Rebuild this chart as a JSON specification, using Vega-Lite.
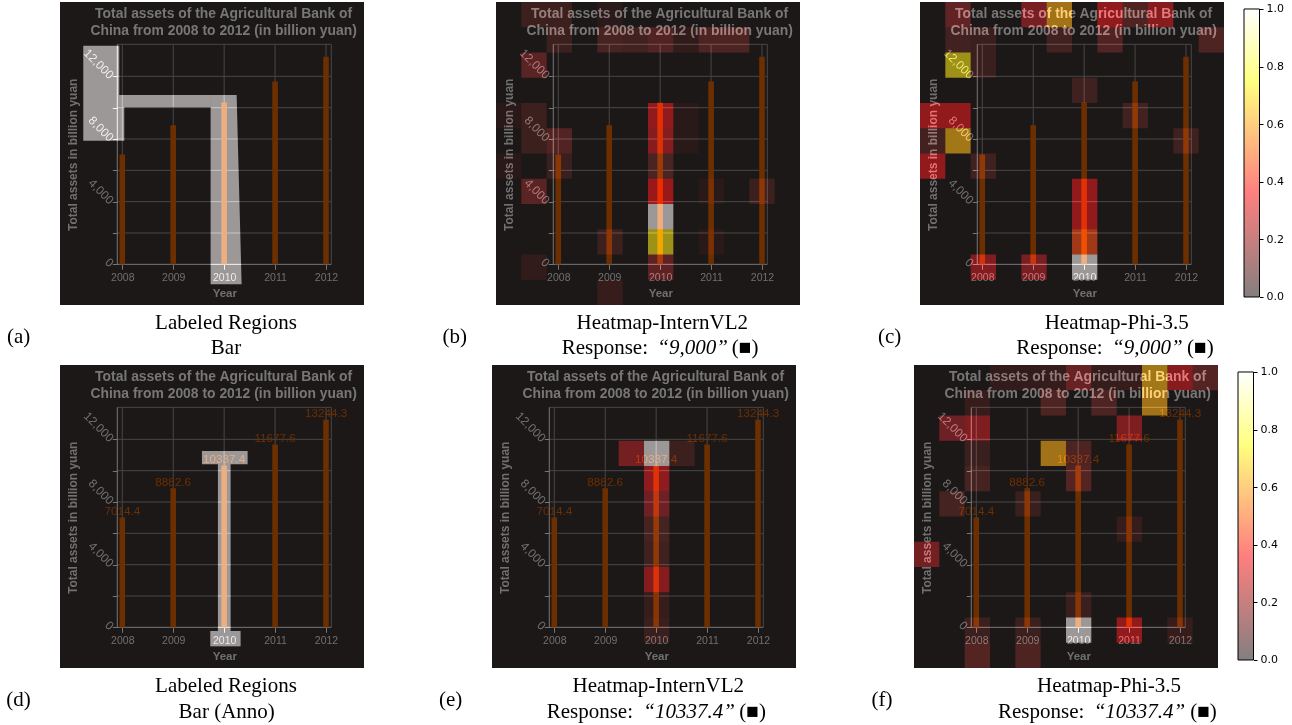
{"$schema":"https://vega.github.io/schema/vega-lite/v6.json","background":"white","padding":{"left":6,"top":2,"right":0,"bottom":0},"bounds":"flush","spacing":363,
"config":{"view":{"stroke":null},
"axisX":{"offset":-40.7,"domain":false,"grid":false,"tickSize":5,"tickColor":"#777777","labelColor":"#707070","labelFont":"Liberation Sans","labelFontSize":10.5,"labelPadding":3,"labelFlush":false,"labelOverlap":false,"titleFont":"Liberation Sans","titleFontSize":11.5,"titleFontWeight":"bold","titleColor":"#707070","titleX":164.3,"titleY":29.3,"titleBaseline":"middle","titleAlign":"center"},
"axisY":{"offset":-57.3,"domain":false,"grid":false,"tickSize":5,"tickColor":"#777777","labelColor":"#707070","labelFont":"Liberation Sans","labelFontSize":12,"labelPadding":1,"labelAngle":45,"labelAlign":"right","labelBaseline":"middle","labelOverlap":false,"titleFont":"Liberation Sans","titleFontSize":12,"titleFontWeight":"bold","titleColor":"#707070","titleX":-44.7,"titleY":152.3,"titleBaseline":"middle","titleAlign":"center"}},
"datasets":{
"bars":[{"x":2008,"y":7014.4},{"x":2009,"y":8882.6},{"x":2010,"y":10337.4},{"x":2011,"y":11677.6},{"x":2012,"y":13244.3}],
"grid":[{"x":2008,"x2":2008,"y":0,"y2":14043},{"x":2009,"x2":2009,"y":0,"y2":14043},{"x":2010,"x2":2010,"y":0,"y2":14043},{"x":2011,"x2":2011,"y":0,"y2":14043},{"x":2012,"x2":2012,"y":0,"y2":14043},{"x":2007.902,"x2":2012.104,"y":2000,"y2":2000},{"x":2007.902,"x2":2012.104,"y":4000,"y2":4000},{"x":2007.902,"x2":2012.104,"y":6000,"y2":6000},{"x":2007.902,"x2":2012.104,"y":8000,"y2":8000},{"x":2007.902,"x2":2012.104,"y":10000,"y2":10000},{"x":2007.902,"x2":2012.104,"y":12000,"y2":12000},{"x":2007.902,"x2":2012.104,"y":14043,"y2":14043},{"x":2012.104,"x2":2012.104,"y":0,"y2":14043}],
"frame":[{"x":2007.902,"x2":2007.902,"y":0,"y2":14043},{"x":2007.902,"x2":2012.104,"y":0,"y2":0}],
"head":[{"x":2009.99,"y":15970,"t":"Total assets of the Agricultural Bank of"},{"x":2009.99,"y":14910,"t":"China from 2008 to 2012 (in billion yuan)"}],
"heatB":[{"c":1,"r":0,"v":0.06},{"c":2,"r":0,"v":0.06},{"c":4,"r":0,"v":0.015},{"c":2,"r":1,"v":0.06},{"c":4,"r":1,"v":0.1},{"c":5,"r":1,"v":0.08},{"c":6,"r":1,"v":0.13},{"c":7,"r":1,"v":0.03},{"c":8,"r":1,"v":0.12},{"c":9,"r":1,"v":0.12},{"c":1,"r":2,"v":0.16},{"c":0,"r":4,"v":0.012},{"c":1,"r":4,"v":0.06},{"c":6,"r":4,"v":0.33},{"c":7,"r":4,"v":0.012},{"c":1,"r":5,"v":0.06},{"c":2,"r":5,"v":0.13},{"c":6,"r":5,"v":0.3},{"c":7,"r":5,"v":0.012},{"c":0,"r":6,"v":0.012},{"c":2,"r":6,"v":0.05},{"c":6,"r":6,"v":0.11},{"c":1,"r":7,"v":0.16},{"c":6,"r":7,"v":0.36},{"c":8,"r":7,"v":0.012},{"c":10,"r":7,"v":0.06},{"c":6,"r":8,"v":1},{"c":4,"r":9,"v":0.06},{"c":6,"r":9,"v":0.72},{"c":8,"r":9,"v":0.012},{"c":1,"r":10,"v":0.03},{"c":6,"r":10,"v":0.17},{"c":4,"r":11,"v":0.04}],
"heatC":[{"c":1,"r":0,"v":0.18},{"c":4,"r":0,"v":0.25},{"c":5,"r":0,"v":0.6},{"c":7,"r":0,"v":0.33},{"c":8,"r":0,"v":0.12},{"c":9,"r":0,"v":0.3},{"c":1,"r":1,"v":0.08},{"c":2,"r":1,"v":0.05},{"c":5,"r":1,"v":0.08},{"c":7,"r":1,"v":0.13},{"c":11,"r":1,"v":0.12},{"c":1,"r":2,"v":0.72},{"c":2,"r":2,"v":0.05},{"c":6,"r":3,"v":0.07},{"c":0,"r":4,"v":0.33},{"c":1,"r":4,"v":0.33},{"c":8,"r":4,"v":0.08},{"c":0,"r":5,"v":0.08},{"c":1,"r":5,"v":0.62},{"c":10,"r":5,"v":0.07},{"c":0,"r":6,"v":0.33},{"c":2,"r":6,"v":0.07},{"c":6,"r":7,"v":0.33},{"c":6,"r":8,"v":0.33},{"c":6,"r":9,"v":0.42},{"c":2,"r":10,"v":0.28},{"c":4,"r":10,"v":0.25},{"c":6,"r":10,"v":1}],
"heatE":[{"c":5,"r":3,"v":0.24},{"c":6,"r":3,"v":1},{"c":7,"r":3,"v":0.06},{"c":6,"r":4,"v":0.32},{"c":6,"r":5,"v":0.22},{"c":6,"r":6,"v":0.09},{"c":6,"r":7,"v":0.07},{"c":6,"r":8,"v":0.3},{"c":6,"r":9,"v":0.04},{"c":6,"r":10,"v":0.05}],
"heatF":[{"c":3,"r":0,"v":0.03},{"c":4,"r":0,"v":0.03},{"c":5,"r":0,"v":0.04},{"c":6,"r":0,"v":0.2},{"c":7,"r":0,"v":0.04},{"c":8,"r":0,"v":0.04},{"c":9,"r":0,"v":0.62},{"c":10,"r":0,"v":0.3},{"c":11,"r":0,"v":0.14},{"c":2,"r":1,"v":0.04},{"c":5,"r":1,"v":0.12},{"c":7,"r":1,"v":0.12},{"c":9,"r":1,"v":0.6},{"c":1,"r":2,"v":0.22},{"c":2,"r":2,"v":0.27},{"c":8,"r":2,"v":0.27},{"c":2,"r":3,"v":0.05},{"c":5,"r":3,"v":0.6},{"c":6,"r":3,"v":0.12},{"c":2,"r":4,"v":0.09},{"c":6,"r":4,"v":0.14},{"c":1,"r":5,"v":0.09},{"c":4,"r":5,"v":0.05},{"c":8,"r":6,"v":0.04},{"c":0,"r":7,"v":0.24},{"c":6,"r":9,"v":0.05},{"c":2,"r":10,"v":0.06},{"c":4,"r":10,"v":0.06},{"c":6,"r":10,"v":1},{"c":8,"r":10,"v":0.33},{"c":10,"r":10,"v":0.04},{"c":2,"r":11,"v":0.14},{"c":4,"r":11,"v":0.12}]
},
"vconcat":[
{"hconcat":[
{"width":304,"height":303,"view":{"fill":"#1c1818"},"encoding":{"x":{"field":"x","type":"quantitative","scale":{"domain":[2006.777,2012.746],"nice":false,"zero":false,"padding":0},"axis":{"title":"Year","values":[2008,2009,2010,2011,2012],"format":"d"}},"y":{"field":"y","type":"quantitative","scale":{"domain":[-2596,16745],"nice":false,"zero":false},"axis":{"title":"Total assets in billion yuan","values":[0,2000,4000,6000,8000,10000,12000],"labelExpr":"datum.value % 4000 === 0 ? format(datum.value, ',') : ''"}}},
"layer":[
{"data":{"name":"grid"},"mark":{"type":"rule","color":"#484646","strokeWidth":1},"encoding":{"x2":{"field":"x2"},"y2":{"field":"y2"}}},
{"data":{"name":"frame"},"mark":{"type":"rule","color":"#777777","strokeWidth":1},"encoding":{"x2":{"field":"x2"},"y2":{"field":"y2"}}},
{"data":{"name":"bars"},"mark":{"type":"bar","size":5.6,"color":"#6e2f00","orient":"vertical"}},
{"data":{"name":"head"},"mark":{"type":"text","font":"Liberation Sans","fontWeight":"bold","fontSize":13.9,"color":"#777777","baseline":"middle"},"encoding":{"text":{"field":"t"}}},
{"data":{"values":[{"x":2007.234,"x2":2007.941,"y":13960,"y2":10810},{"x":2007.234,"x2":2008.039,"y":10810,"y2":7895},{"x":2008.039,"x2":2009.734,"y":10810,"y2":10023}]},"mark":{"type":"rect","color":"#808080","blend":"plus-lighter"},"encoding":{"x2":{"field":"x2"},"y2":{"field":"y2"}}},
{"data":{"values":[{"x":2009.734,"x2":2010.245,"y":10810},{"x":2009.734,"x2":2010.343,"y":-1277}]},"mark":{"type":"area","color":"#808080","orient":"horizontal","blend":"plus-lighter"},"encoding":{"x2":{"field":"x2"}}},
{"data":{"values":[{"x":2010.036,"y":-3767,"t":"Labeled Regions"},{"x":2010.036,"y":-5363,"t":"Bar"},{"x":2005.964,"y":-4660,"t":"(a)"}]},"mark":{"type":"text","font":"Liberation Serif","fontSize":21,"color":"#000000","baseline":"middle"},"encoding":{"text":{"field":"t"}}}
]},
{"hconcat":[
{"width":304,"height":303,"view":{"fill":"#1c1818"},"resolve":{"scale":{"x":"independent","y":"independent"}},"layer":[
{"encoding":{"x":{"field":"x","type":"quantitative","scale":{"domain":[2006.777,2012.746],"nice":false,"zero":false,"padding":0},"axis":{"title":"Year","values":[2008,2009,2010,2011,2012],"format":"d"}},"y":{"field":"y","type":"quantitative","scale":{"domain":[-2596,16745],"nice":false,"zero":false},"axis":{"title":"Total assets in billion yuan","values":[0,2000,4000,6000,8000,10000,12000],"labelExpr":"datum.value % 4000 === 0 ? format(datum.value, ',') : ''"}}},
"layer":[
{"data":{"name":"grid"},"mark":{"type":"rule","color":"#484646","strokeWidth":1},"encoding":{"x2":{"field":"x2"},"y2":{"field":"y2"}}},
{"data":{"name":"frame"},"mark":{"type":"rule","color":"#777777","strokeWidth":1},"encoding":{"x2":{"field":"x2"},"y2":{"field":"y2"}}},
{"data":{"name":"bars"},"mark":{"type":"bar","size":5.6,"color":"#6e2f00","orient":"vertical"}},
{"data":{"name":"head"},"mark":{"type":"text","font":"Liberation Sans","fontWeight":"bold","fontSize":13.9,"color":"#777777","baseline":"middle"},"encoding":{"text":{"field":"t"}}},
{"data":{"values":[{"x":2010.042,"y":-3767,"t":"Heatmap-InternVL2"},{"x":2005.966,"y":-4660,"t":"(b)"}]},"mark":{"type":"text","font":"Liberation Serif","fontSize":21,"color":"#000000","baseline":"middle"},"encoding":{"text":{"field":"t"}}},
{"data":{"values":[{"x":2008.067,"y":-5363,"t":"Response:"},{"x":2011.405,"y":-5363,"t":"(■)"}]},"mark":{"type":"text","font":"Liberation Serif","fontSize":21,"color":"#000000","baseline":"middle","align":"left"},"encoding":{"text":{"field":"t"}}},
{"data":{"values":[{"x":2009.944,"y":-5363,"t":"“9,000”"}]},"mark":{"type":"text","font":"Liberation Serif","fontStyle":"italic","fontSize":21,"color":"#000000","baseline":"middle","align":"left"},"encoding":{"text":{"field":"t"}}}
]},
{"data":{"name":"heatB"},"mark":{"type":"rect","width":25.33,"height":25.25,"blend":"plus-lighter"},"encoding":{"x":{"field":"c","type":"quantitative","scale":{"domain":[-0.5,11.5],"nice":false,"zero":false},"axis":null},"y":{"field":"r","type":"quantitative","scale":{"domain":[11.5,-0.5],"nice":false,"zero":false},"axis":null},"color":{"field":"v","type":"quantitative","legend":null,"scale":{"domain":[0,0.365,0.746,1],"range":["#050000","#800000","#808000","#808080"]}}}}
]},
{"hconcat":[
{"width":304,"height":303,"view":{"fill":"#1c1818"},"resolve":{"scale":{"x":"independent","y":"independent"}},"layer":[
{"encoding":{"x":{"field":"x","type":"quantitative","scale":{"domain":[2006.777,2012.746],"nice":false,"zero":false,"padding":0},"axis":{"title":"Year","values":[2008,2009,2010,2011,2012],"format":"d"}},"y":{"field":"y","type":"quantitative","scale":{"domain":[-2596,16745],"nice":false,"zero":false},"axis":{"title":"Total assets in billion yuan","values":[0,2000,4000,6000,8000,10000,12000],"labelExpr":"datum.value % 4000 === 0 ? format(datum.value, ',') : ''"}}},
"layer":[
{"data":{"name":"grid"},"mark":{"type":"rule","color":"#484646","strokeWidth":1},"encoding":{"x2":{"field":"x2"},"y2":{"field":"y2"}}},
{"data":{"name":"frame"},"mark":{"type":"rule","color":"#777777","strokeWidth":1},"encoding":{"x2":{"field":"x2"},"y2":{"field":"y2"}}},
{"data":{"name":"bars"},"mark":{"type":"bar","size":5.6,"color":"#6e2f00","orient":"vertical"}},
{"data":{"name":"head"},"mark":{"type":"text","font":"Liberation Sans","fontWeight":"bold","fontSize":13.9,"color":"#777777","baseline":"middle"},"encoding":{"text":{"field":"t"}}},
{"data":{"values":[{"x":2010.639,"y":-3767,"t":"Heatmap-Phi-3.5"},{"x":2006.182,"y":-4660,"t":"(c)"}]},"mark":{"type":"text","font":"Liberation Serif","fontSize":21,"color":"#000000","baseline":"middle"},"encoding":{"text":{"field":"t"}}},
{"data":{"values":[{"x":2008.668,"y":-5363,"t":"Response:"},{"x":2012.02,"y":-5363,"t":"(■)"}]},"mark":{"type":"text","font":"Liberation Serif","fontSize":21,"color":"#000000","baseline":"middle","align":"left"},"encoding":{"text":{"field":"t"}}},
{"data":{"values":[{"x":2010.547,"y":-5363,"t":"“9,000”"}]},"mark":{"type":"text","font":"Liberation Serif","fontStyle":"italic","fontSize":21,"color":"#000000","baseline":"middle","align":"left"},"encoding":{"text":{"field":"t"}}}
]},
{"data":{"name":"heatC"},"mark":{"type":"rect","width":25.33,"height":25.25,"blend":"plus-lighter"},"encoding":{"x":{"field":"c","type":"quantitative","scale":{"domain":[-0.5,11.5],"nice":false,"zero":false},"axis":null},"y":{"field":"r","type":"quantitative","scale":{"domain":[11.5,-0.5],"nice":false,"zero":false},"axis":null},"color":{"field":"v","type":"quantitative","legend":null,"scale":{"domain":[0,0.365,0.746,1],"range":["#050000","#800000","#808000","#808080"]}}}}
]},
{"width":15.5,"height":303,"data":{"values":[{"x":0,"x2":1,"y":0,"y2":1}]},"mark":{"type":"rect","fill":{"gradient":"linear","x1":0,"y1":1,"x2":0,"y2":0,"stops":[{"offset":0,"color":"#0a0000"},{"offset":0.365,"color":"#ff0000"},{"offset":0.746,"color":"#ffff00"},{"offset":1,"color":"#ffffff"}]},"fillOpacity":0.5,"stroke":"#000000","strokeWidth":1},"encoding":{"x":{"field":"x","type":"quantitative","scale":{"domain":[0,1],"nice":false},"axis":null},"x2":{"field":"x2"},"y":{"field":"y","type":"quantitative","scale":{"domain":[-0.0278,1.0243],"nice":false,"zero":false},"axis":{"orient":"right","title":null,"offset":0,"values":[0,0.2,0.4,0.6,0.8,1],"format":".1f","tickSize":3.5,"tickColor":"#000000","labelColor":"#000000","labelFont":"DejaVu Sans","labelFontSize":11,"labelAngle":0,"labelAlign":"left","labelPadding":3}},"y2":{"field":"y2"}}}
],"spacing":20,"bounds":"flush"}
],"spacing":120,"bounds":"flush"}
],"spacing":132,"bounds":"flush"},
{"hconcat":[
{"width":304,"height":303,"view":{"fill":"#1c1818"},"encoding":{"x":{"field":"x","type":"quantitative","scale":{"domain":[2006.777,2012.746],"nice":false,"zero":false,"padding":0},"axis":{"title":"Year","values":[2008,2009,2010,2011,2012],"format":"d"}},"y":{"field":"y","type":"quantitative","scale":{"domain":[-2596,16745],"nice":false,"zero":false},"axis":{"title":"Total assets in billion yuan","values":[0,2000,4000,6000,8000,10000,12000],"labelExpr":"datum.value % 4000 === 0 ? format(datum.value, ',') : ''"}}},
"layer":[
{"data":{"name":"grid"},"mark":{"type":"rule","color":"#484646","strokeWidth":1},"encoding":{"x2":{"field":"x2"},"y2":{"field":"y2"}}},
{"data":{"name":"frame"},"mark":{"type":"rule","color":"#777777","strokeWidth":1},"encoding":{"x2":{"field":"x2"},"y2":{"field":"y2"}}},
{"data":{"name":"bars"},"mark":{"type":"bar","size":5.6,"color":"#6e2f00","orient":"vertical"}},
{"data":{"name":"bars"},"mark":{"type":"text","font":"Liberation Sans","fontSize":11.7,"color":"#6e2f00","baseline":"middle","dy":-6.5},"encoding":{"text":{"field":"y","format":".1f"}}},
{"data":{"name":"head"},"mark":{"type":"text","font":"Liberation Sans","fontWeight":"bold","fontSize":13.9,"color":"#777777","baseline":"middle"},"encoding":{"text":{"field":"t"}}},
{"data":{"values":[{"x":2009.564,"x2":2010.461,"y":11257,"y2":10406},{"x":2009.878,"x2":2010.127,"y":10406,"y2":-234},{"x":2009.728,"x2":2010.323,"y":-234,"y2":-1213}]},"mark":{"type":"rect","color":"#808080","blend":"plus-lighter"},"encoding":{"x2":{"field":"x2"},"y2":{"field":"y2"}}},
{"data":{"values":[{"x":2010.036,"y":-3745,"t":"Labeled Regions"},{"x":2010.05,"y":-5426,"t":"Bar (Anno)"},{"x":2005.964,"y":-4639,"t":"(d)"}]},"mark":{"type":"text","font":"Liberation Serif","fontSize":21,"color":"#000000","baseline":"middle"},"encoding":{"text":{"field":"t"}}}
]},
{"hconcat":[
{"width":304,"height":303,"view":{"fill":"#1c1818"},"resolve":{"scale":{"x":"independent","y":"independent"}},"layer":[
{"encoding":{"x":{"field":"x","type":"quantitative","scale":{"domain":[2006.777,2012.746],"nice":false,"zero":false,"padding":0},"axis":{"title":"Year","values":[2008,2009,2010,2011,2012],"format":"d"}},"y":{"field":"y","type":"quantitative","scale":{"domain":[-2596,16745],"nice":false,"zero":false},"axis":{"title":"Total assets in billion yuan","values":[0,2000,4000,6000,8000,10000,12000],"labelExpr":"datum.value % 4000 === 0 ? format(datum.value, ',') : ''"}}},
"layer":[
{"data":{"name":"grid"},"mark":{"type":"rule","color":"#484646","strokeWidth":1},"encoding":{"x2":{"field":"x2"},"y2":{"field":"y2"}}},
{"data":{"name":"frame"},"mark":{"type":"rule","color":"#777777","strokeWidth":1},"encoding":{"x2":{"field":"x2"},"y2":{"field":"y2"}}},
{"data":{"name":"bars"},"mark":{"type":"bar","size":5.6,"color":"#6e2f00","orient":"vertical"}},
{"data":{"name":"bars"},"mark":{"type":"text","font":"Liberation Sans","fontSize":11.7,"color":"#6e2f00","baseline":"middle","dy":-6.5},"encoding":{"text":{"field":"y","format":".1f"}}},
{"data":{"name":"head"},"mark":{"type":"text","font":"Liberation Sans","fontWeight":"bold","fontSize":13.9,"color":"#777777","baseline":"middle"},"encoding":{"text":{"field":"t"}}},
{"data":{"values":[{"x":2010.042,"y":-3745,"t":"Heatmap-InternVL2"},{"x":2005.966,"y":-4639,"t":"(e)"}]},"mark":{"type":"text","font":"Liberation Serif","fontSize":21,"color":"#000000","baseline":"middle"},"encoding":{"text":{"field":"t"}}},
{"data":{"values":[{"x":2007.85,"y":-5426,"t":"Response:"},{"x":2011.633,"y":-5426,"t":"(■)"}]},"mark":{"type":"text","font":"Liberation Serif","fontSize":21,"color":"#000000","baseline":"middle","align":"left"},"encoding":{"text":{"field":"t"}}},
{"data":{"values":[{"x":2009.747,"y":-5426,"t":"“10337.4”"}]},"mark":{"type":"text","font":"Liberation Serif","fontStyle":"italic","fontSize":21,"color":"#000000","baseline":"middle","align":"left"},"encoding":{"text":{"field":"t"}}}
]},
{"data":{"name":"heatE"},"mark":{"type":"rect","width":25.33,"height":25.25,"blend":"plus-lighter"},"encoding":{"x":{"field":"c","type":"quantitative","scale":{"domain":[-0.5,11.5],"nice":false,"zero":false},"axis":null},"y":{"field":"r","type":"quantitative","scale":{"domain":[11.5,-0.5],"nice":false,"zero":false},"axis":null},"color":{"field":"v","type":"quantitative","legend":null,"scale":{"domain":[0,0.365,0.746,1],"range":["#050000","#800000","#808000","#808080"]}}}}
]},
{"hconcat":[
{"width":304,"height":303,"view":{"fill":"#1c1818"},"resolve":{"scale":{"x":"independent","y":"independent"}},"layer":[
{"encoding":{"x":{"field":"x","type":"quantitative","scale":{"domain":[2006.777,2012.746],"nice":false,"zero":false,"padding":0},"axis":{"title":"Year","values":[2008,2009,2010,2011,2012],"format":"d"}},"y":{"field":"y","type":"quantitative","scale":{"domain":[-2596,16745],"nice":false,"zero":false},"axis":{"title":"Total assets in billion yuan","values":[0,2000,4000,6000,8000,10000,12000],"labelExpr":"datum.value % 4000 === 0 ? format(datum.value, ',') : ''"}}},
"layer":[
{"data":{"name":"grid"},"mark":{"type":"rule","color":"#484646","strokeWidth":1},"encoding":{"x2":{"field":"x2"},"y2":{"field":"y2"}}},
{"data":{"name":"frame"},"mark":{"type":"rule","color":"#777777","strokeWidth":1},"encoding":{"x2":{"field":"x2"},"y2":{"field":"y2"}}},
{"data":{"name":"bars"},"mark":{"type":"bar","size":5.6,"color":"#6e2f00","orient":"vertical"}},
{"data":{"name":"bars"},"mark":{"type":"text","font":"Liberation Sans","fontSize":11.7,"color":"#6e2f00","baseline":"middle","dy":-6.5},"encoding":{"text":{"field":"y","format":".1f"}}},
{"data":{"name":"head"},"mark":{"type":"text","font":"Liberation Sans","fontWeight":"bold","fontSize":13.9,"color":"#777777","baseline":"middle"},"encoding":{"text":{"field":"t"}}},
{"data":{"values":[{"x":2010.606,"y":-3745,"t":"Heatmap-Phi-3.5"},{"x":2006.149,"y":-4639,"t":"(f)"}]},"mark":{"type":"text","font":"Liberation Serif","fontSize":21,"color":"#000000","baseline":"middle"},"encoding":{"text":{"field":"t"}}},
{"data":{"values":[{"x":2008.426,"y":-5426,"t":"Response:"},{"x":2012.2,"y":-5426,"t":"(■)"}]},"mark":{"type":"text","font":"Liberation Serif","fontSize":21,"color":"#000000","baseline":"middle","align":"left"},"encoding":{"text":{"field":"t"}}},
{"data":{"values":[{"x":2010.305,"y":-5426,"t":"“10337.4”"}]},"mark":{"type":"text","font":"Liberation Serif","fontStyle":"italic","fontSize":21,"color":"#000000","baseline":"middle","align":"left"},"encoding":{"text":{"field":"t"}}}
]},
{"data":{"name":"heatF"},"mark":{"type":"rect","width":25.33,"height":25.25,"blend":"plus-lighter"},"encoding":{"x":{"field":"c","type":"quantitative","scale":{"domain":[-0.5,11.5],"nice":false,"zero":false},"axis":null},"y":{"field":"r","type":"quantitative","scale":{"domain":[11.5,-0.5],"nice":false,"zero":false},"axis":null},"color":{"field":"v","type":"quantitative","legend":null,"scale":{"domain":[0,0.365,0.746,1],"range":["#050000","#800000","#808000","#808080"]}}}}
]},
{"width":15.5,"height":303,"data":{"values":[{"x":0,"x2":1,"y":0,"y2":1}]},"mark":{"type":"rect","fill":{"gradient":"linear","x1":0,"y1":1,"x2":0,"y2":0,"stops":[{"offset":0,"color":"#0a0000"},{"offset":0.365,"color":"#ff0000"},{"offset":0.746,"color":"#ffff00"},{"offset":1,"color":"#ffffff"}]},"fillOpacity":0.5,"stroke":"#000000","strokeWidth":1},"encoding":{"x":{"field":"x","type":"quantitative","scale":{"domain":[0,1],"nice":false},"axis":null},"x2":{"field":"x2"},"y":{"field":"y","type":"quantitative","scale":{"domain":[-0.0278,1.0243],"nice":false,"zero":false},"axis":{"orient":"right","title":null,"offset":0,"values":[0,0.2,0.4,0.6,0.8,1],"format":".1f","tickSize":3.5,"tickColor":"#000000","labelColor":"#000000","labelFont":"DejaVu Sans","labelFontSize":11,"labelAngle":0,"labelAlign":"left","labelPadding":3}},"y2":{"field":"y2"}}}
],"spacing":20,"bounds":"flush"}
],"spacing":118,"bounds":"flush"}
],"spacing":128,"bounds":"flush"}
]}
